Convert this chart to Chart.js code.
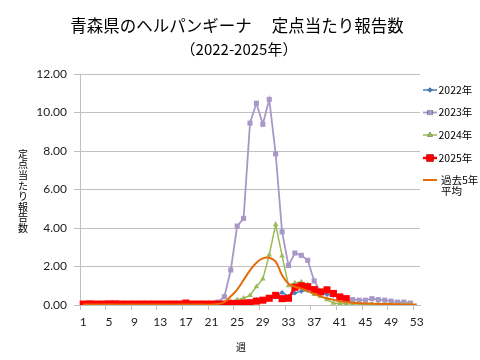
<!DOCTYPE html>
<html><head><meta charset="utf-8">
<script src="https://cdn.jsdelivr.net/npm/chart.js@4.4.0/dist/chart.umd.min.js"></script>
<style>html,body{margin:0;padding:0;background:#fff}#wrap{width:480px;height:360px}</style>
</head><body><div id="wrap"><canvas id="c" width="480" height="360"></canvas></div>
<script>
const weeks = ['1','2','3','4','5','6','7','8','9','10','11','12','13','14','15','16','17','18','19','20','21','22','23','24','25','26','27','28','29','30','31','32','33','34','35','36','37','38','39','40','41','42','43','44','45','46','47','48','49','50','51','52','53'];
const yTicks = [0, 2, 4, 6, 8, 10, 12];

const s2022 = [0.03,0.02,0.02,0.03,0.02,0.02,0.02,0.02,0.02,0.02,0.02,0.03,0.02,0.02,0.02,0.03,0.02,0.02,0.02,0.02,0.02,0.03,0.05,0.05,
  0.10,0.12,0.15,0.28,0.22,0.35,0.42,0.65,0.45,0.62,0.72,0.75,0.65,0.62,0.55,0.50,0.35,0.15,0.10,0.08,0.05,0.05,0.04,0.03,0.03,0.02,0.02,0.02,null];
const s2023 = [0.03,0.03,0.02,0.03,0.03,0.02,0.03,0.02,0.03,0.02,0.03,0.02,0.03,0.02,0.03,0.02,0.05,0.03,0.02,0.03,0.05,0.15,
  0.43,1.82,4.10,4.50,9.45,10.48,9.39,10.68,7.85,3.80,2.05,2.70,2.58,2.32,1.25,0.70,0.85,0.55,0.40,0.30,0.28,0.25,0.25,0.33,0.28,0.25,0.20,0.15,0.15,0.10,null];
const s2024 = [0.02,0.02,0.02,0.02,0.02,0.02,0.02,0.02,0.02,0.02,0.02,0.02,0.02,0.02,0.02,0.02,0.02,0.02,0.02,0.02,0.02,0.03,
  0.08,0.18,0.28,0.35,0.50,0.95,1.35,2.60,4.18,2.55,1.00,1.15,1.20,1.05,0.55,0.45,0.28,0.10,0.08,0.06,0.05,0.05,0.03,0.03,0.04,0.03,0.03,0.02,0.02,0.02,null];
const s2025 = [0.05,0.06,0.05,0.05,0.06,0.06,0.05,0.05,0.05,0.05,0.05,0.05,0.05,0.05,0.05,0.05,0.10,0.05,0.05,0.05,0.05,0.05,
  0.05,0.08,0.08,0.10,0.12,0.20,0.25,0.35,0.50,0.33,0.35,0.92,1.00,0.95,0.80,0.68,0.78,0.60,0.42,0.33,null,null,null,null,null,null,null,null,null,null,null];
const sAvg = [0.02,0.02,0.02,0.02,0.02,0.02,0.02,0.02,0.02,0.02,0.02,0.02,0.02,0.02,0.02,0.02,0.02,0.02,0.02,0.02,0.02,0.05,
  0.15,0.45,0.80,1.30,1.80,2.20,2.42,2.45,2.25,1.55,1.10,0.95,0.85,0.72,0.58,0.45,0.35,0.27,0.20,0.15,0.12,0.10,0.08,0.07,0.06,0.05,0.05,0.04,0.03,0.03,0.02];

const C22 = '#4a7ebb', C23 = '#a898c8', C24 = '#9bbb59', C25 = '#ff0000', CAVG = '#e46c0a';
const GRID = '#c0c0c0';

const seriesDefs = [
  {label:'2022年', data:s2022, color:C22, bw:1.5, ps:'rectRot', pr:2.5, order:5},
  {label:'2023年', data:s2023, color:C23, bw:1.8, ps:'rect', pr:3.6, order:4},
  {label:'2024年', data:s2024, color:C24, bw:1.5, ps:'triangle', pr:3.2, order:3},
  {label:'2025年', data:s2025, color:C25, bw:2.5, ps:'rect', pr:5, order:2},
  {label:'過去5年平均', data:sAvg, color:CAVG, bw:2, ps:false, pr:0, order:1, tension:0.4}
];

const datasets = seriesDefs.map(d => ({
  label: d.label, data: d.data, borderColor: d.color, backgroundColor: d.color,
  borderWidth: d.bw, pointStyle: d.ps, pointRadius: d.pr, pointBorderWidth: 0,
  pointBackgroundColor: d.color, tension: d.tension || 0, order: d.order, spanGaps: false
}));

const JP = '"Noto Sans CJK JP", "Noto Sans", sans-serif';
const NUM = 'Lato, "Open Sans", sans-serif';

const decor = {
  id: 'decor',
  afterDraw(chart) {
    const ctx = chart.ctx;
    ctx.save();
    ctx.fillStyle = '#000';
    ctx.textAlign = 'center';
    ctx.textBaseline = 'middle';
    ctx.font = '16.5px ' + JP;
    ctx.fillText('青森県のヘルパンギーナ　 定点当たり報告数', 237, 26);
    ctx.font = '15px ' + JP;
    ctx.fillText('（2022-2025年）', 239, 49);
    // y title (stacked)
    ctx.font = '10px ' + JP;
    const yt = '定点当たり報告数';
    for (let i = 0; i < yt.length; i++) ctx.fillText(yt[i], 23, 154 + i * 10.6);
    // x title
    ctx.fillText('週', 241, 347);
    // legend
    const items = [
      {t:['2022年'], y:90, d:seriesDefs[0]},
      {t:['2023年'], y:112.5, d:seriesDefs[1]},
      {t:['2024年'], y:135, d:seriesDefs[2]},
      {t:['2025年'], y:158, d:seriesDefs[3]},
      {t:['過去5年','平均'], y:180, d:seriesDefs[4], tx:441}
    ];
    ctx.textAlign = 'left';
    ctx.font = '10.5px ' + JP;
    items.forEach(it => {
      ctx.strokeStyle = it.d.color;
      ctx.lineWidth = it.d.bw;
      ctx.beginPath(); ctx.moveTo(423, it.y); ctx.lineTo(437, it.y); ctx.stroke();
      if (it.d.ps) {
        Chart.helpers.drawPoint(ctx, {pointStyle: it.d.ps, radius: it.d.pr, rotation: 0, borderWidth: 0}, 430, it.y);
        ctx.fillStyle = it.d.color; ctx.fill();
      }
      ctx.fillStyle = '#000';
      it.t.forEach((line, k) => ctx.fillText(line, it.tx || 438.5, it.y + k * 11.5));
    });
    ctx.restore();
  }
};

new Chart(document.getElementById('c'), {
  type: 'line',
  data: { labels: weeks, datasets },
  plugins: [decor],
  options: {
    responsive: false, animation: false, devicePixelRatio: 1,
    layout: { padding: { top: 74, right: 60, left: 0, bottom: 0 } },
    plugins: { legend: { display: false }, title: { display: false }, tooltip: { enabled: false } },
    scales: {
      x: {
        offset: true,
        grid: { offset: true, drawOnChartArea: false, drawTicks: true, tickLength: 5,
          tickColor: c => (c.index % 4 === 0 ? GRID : 'rgba(0,0,0,0)') },
        border: { display: true, color: GRID, width: 1 },
        ticks: { autoSkip: false, maxRotation: 0, padding: 5, color: '#222',
          font: { family: NUM, size: 12 },
          callback: (v, i) => (i % 4 === 0 ? weeks[i] : '') },
        afterFit: s => { s.height = 55; }
      },
      y: {
        min: 0, max: 12,
        afterBuildTicks: s => { s.ticks = yTicks.map(v => ({ value: v })); },
        grid: { color: GRID, drawTicks: true, tickLength: 6, tickColor: GRID },
        border: { display: true, color: GRID, width: 1 },
        ticks: { padding: 7, color: '#222', font: { family: NUM, size: 12 },
          callback: v => Number(v).toFixed(2) },
        afterFit: s => { s.width = 80; }
      }
    }
  }
});
</script></body></html>
